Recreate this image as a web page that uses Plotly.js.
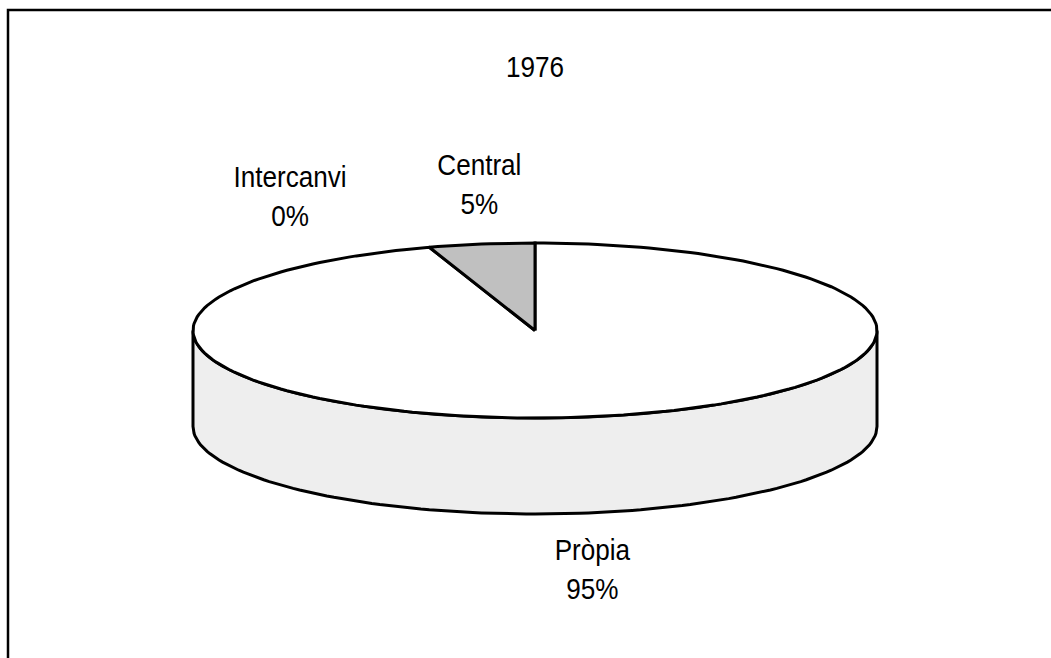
<!DOCTYPE html>
<html>
<head>
<meta charset="utf-8">
<script src="https://cdn.plot.ly/plotly-3.0.1.min.js"></script>
<style>html,body{margin:0;padding:0;background:#fff;}#chart{width:1051px;height:658px;}</style>
</head>
<body>
<div id="chart"></div>
<script>
// ---- data ----
const chartTitle = '1976';
const categories = ['Pròpia', 'Central', 'Intercanvi'];
const values = [95, 5, 0];
const sliceColors = ['#ffffff', '#c0c0c0', '#ffffff'];
const sideColors = ['#eeeeee', '#a0a0a0', '#eeeeee'];

// ---- geometry (layout constants, pixel space) ----
const W = 1051, H = 658;
const cx = 535, cy = 330.5, ra = 342, rb = 87.5, depth = 96;
const FONT = 'Liberation Sans Narrow, Arial Narrow, Liberation Sans, Arial, sans-serif';
const NARROW = 0.87; // horizontal condensing of the label font

const total = values.reduce((s, v) => s + v, 0);
// slices start at 12 o'clock and go clockwise
let start = 90;
const slices = categories.map((c, i) => {
  const sweep = values[i] / total * 360;
  const s = { name: c, a0: start, a1: start - sweep, i };
  start -= sweep;
  return s;
});

function pt(deg, dy) {
  const t = deg * Math.PI / 180;
  return [cx + ra * Math.cos(t), cy - rb * Math.sin(t) + (dy || 0)];
}
function arc(a0, a1, dy) {
  const n = Math.max(2, Math.ceil(Math.abs(a0 - a1) / 1.5));
  const out = [];
  for (let k = 0; k <= n; k++) out.push(pt(a0 + (a1 - a0) * k / n, dy));
  return out;
}

const traces = [];
// side faces (front half only: angle between -180 and 0, modulo 360)
slices.forEach(s => {
  if (s.a0 === s.a1) return;
  for (let k = -1; k <= 1; k++) {
    const lo = -180 + 360 * k, hi = 0 + 360 * k;
    const from = Math.min(s.a0, hi), to = Math.max(s.a1, lo);
    if (from <= to) continue;
    const top = arc(from, to, 0);
    const bot = arc(to, from, depth);
    const poly = top.concat(bot);
    poly.push(top[0]);
    traces.push({
      type: 'scatter', mode: 'lines', hoverinfo: 'skip',
      x: poly.map(p => p[0]), y: poly.map(p => p[1]),
      fill: 'toself', fillcolor: sideColors[s.i],
      line: { color: '#000', width: 3 }
    });
  }
});
// top faces
slices.forEach(s => {
  if (s.a0 === s.a1) return;
  const poly = [[cx, cy]].concat(arc(s.a0, s.a1, 0));
  poly.push([cx, cy]);
  traces.push({
    type: 'scatter', mode: 'lines', hoverinfo: 'skip',
    x: poly.map(p => p[0]), y: poly.map(p => p[1]),
    fill: 'toself', fillcolor: sliceColors[s.i],
    line: { color: '#000', width: 3, shape: 'linear' }
  });
});

// label positions (layout)
const labelPos = { 'Pròpia': [592, 569], 'Central': [479, 184], 'Intercanvi': [290, 196] };
const annotations = categories.map((c, i) => ({
  x: labelPos[c][0], y: labelPos[c][1], xref: 'x', yref: 'y',
  text: c + '<br>' + Math.round(values[i] / total * 100) + '%',
  showarrow: false, xanchor: 'center', yanchor: 'middle',
  font: { family: FONT, size: 30, color: '#000' }
}));

const layout = {
  width: W, height: H,
  margin: { l: 0, r: 0, t: 0, b: 0 },
  paper_bgcolor: '#fff', plot_bgcolor: '#fff',
  showlegend: false,
  title: { text: chartTitle, x: 535 / W, xanchor: 'center', y: 1 - 67 / H, yanchor: 'middle',
           font: { family: FONT, size: 30, color: '#000' } },
  xaxis: { range: [0, W], visible: false, fixedrange: true },
  yaxis: { range: [H, 0], visible: false, fixedrange: true },
  shapes: [{ type: 'rect', xref: 'x', yref: 'y', x0: 8, y0: 10, x1: W + 20, y1: H + 20,
             line: { color: '#000', width: 2.5 } }],
  annotations
};

Plotly.newPlot('chart', traces, layout, { displayModeBar: false, staticPlot: true }).then(gd => {
  // condense the text horizontally around its own centre (narrow typeface look)
  gd.querySelectorAll('.annotation-text-g text, .gtitle').forEach(el => {
    const bb = el.getBBox();
    const c = bb.x + bb.width / 2;
    const prev = el.getAttribute('transform') || '';
    el.setAttribute('transform', prev + ` translate(${c},0) scale(${NARROW},1) translate(${-c},0)`);
  });
});
</script>
</body>
</html>
